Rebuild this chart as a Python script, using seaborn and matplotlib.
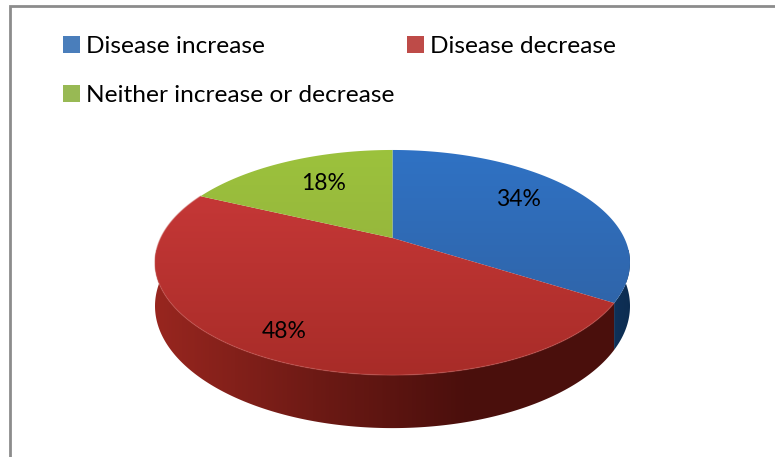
import numpy as np
import matplotlib
matplotlib.use("Agg")
import matplotlib.pyplot as plt
from matplotlib.patches import Patch, Polygon
from matplotlib.colors import LinearSegmentedColormap
import seaborn as sns

sns.set_theme(style="white")
plt.rcParams["font.family"] = ["Lato", "DejaVu Sans"]

categories = ["Disease increase", "Disease decrease", "Neither increase or decrease"]
shares = [34, 48, 18]
swatch_colors = ["#4A7EBB", "#BE4B48", "#98B954"]
face_top = ["#2F72C4", "#CC3A3A", "#9CC23C"]
face_bottom = ["#2F5F9E", "#A82C28", "#8FA83C"]
side_stops = [
    ["#123A66", "#0E2F55", "#0B2A4C"],
    ["#98261F", "#6E1A15", "#4A0F0C"],
    ["#6B8A20", "#5F7C1C", "#55701A"],
]

W, H = 775, 457
fig = plt.figure(figsize=(W / 100, H / 100), dpi=100, facecolor="white")
ax = fig.add_axes([0, 0, 1, 1])
ax.set_axis_off()

# Tilted disc: a circle seen in perspective, with its hub above the ellipse middle
cx, hub_y = 392.5, 238.0
half_w, half_h, tilt, depth = 231.8, 107.2, 0.2178, 41.5


def rim(theta):
    u, v = np.sin(theta), np.cos(theta)
    w = 1 + tilt * v
    return cx + half_w * u / w, hub_y - half_h * v / w, depth / w


edges = np.concatenate([[0], np.cumsum(shares)]) / sum(shares) * 2 * np.pi

# Side wall of the disc, one horizontal gradient per slice, clipped to its visible band
for i in range(len(shares)):
    grid = np.linspace(edges[i], edges[i + 1], 240)
    grid = grid[np.cos(grid) < 0.25]
    if grid.size < 2:
        continue
    xs, ys, ds = rim(grid)
    band = np.column_stack([np.r_[xs, xs[::-1]], np.r_[ys, (ys + ds)[::-1]]])
    clip = Polygon(band, closed=True, transform=ax.transData, fc="none", ec="none")
    ax.add_patch(clip)
    cmap = LinearSegmentedColormap.from_list(f"side{i}", side_stops[i])
    img = ax.imshow(np.linspace(0, 1, 128)[None, :], cmap=cmap, aspect="auto",
                    extent=(155, 470, 440, 250) if i == 1 else (600, 640, 440, 250),
                    zorder=2, interpolation="bilinear")
    img.set_clip_path(clip)
    if i == 1:
        # Dark remainder of the red wall to the right of the gradient
        rest = ax.imshow([[0.0]], cmap=LinearSegmentedColormap.from_list("rest", [side_stops[1][2]] * 2),
                         aspect="auto", extent=(470, 640, 440, 250), zorder=2)
        rest.set_clip_path(clip)

# Top face of every slice, filled with a vertical gradient clipped to the slice
for i in range(len(shares)):
    grid = np.linspace(edges[i], edges[i + 1], 200)
    xs, ys, _ = rim(grid)
    outline = np.column_stack([np.r_[cx, xs], np.r_[hub_y, ys]])
    cmap = LinearSegmentedColormap.from_list(f"face{i}", [face_top[i], face_bottom[i]])
    clip = Polygon(outline, closed=True, transform=ax.transData, fc="none", ec="none")
    ax.add_patch(clip)
    img = ax.imshow(np.linspace(0, 1, 64)[:, None], cmap=cmap, aspect="auto",
                    extent=(150, 635, 378, 148), zorder=3, interpolation="bilinear")
    img.set_clip_path(clip)
    if i == 1:
        # Faint highlight along the front lip of the red slice
        ax.plot(xs, ys, color="#C4524E", lw=1.0, alpha=0.45, zorder=4)

# Percentage labels on the slices
label_xy = [(518, 200), (284, 331), (324, 184)]
for (lx, ly), share in zip(label_xy, shares):
    ax.text(lx, ly, f"{share}%", ha="center", va="center", fontsize=16.5,
            color="black", zorder=5)

# Chart frame: only the top and left borders fall inside the canvas
ax.plot([9.5, 9.5, W], [H, 6, 6], color="#8C8C8C", lw=2, solid_joinstyle="miter", zorder=6)

ax.set_xlim(0, W)
ax.set_ylim(H, 0)
ax.set_aspect("auto")

# Legend columns fill top-down, so the third entry goes under the first
order = [0, 2, 1]
handles = [Patch(fc=swatch_colors[k], ec="none") for k in order]
labels = [categories[k] for k in order]
fig.legend(handles, labels, ncols=2, loc="upper left",
           bbox_to_anchor=(46 / W, 1 - 19 / H), frameon=False, fontsize=17.6,
           handlelength=0.7, handleheight=0.7, handletextpad=0.25,
           labelspacing=1.13, columnspacing=0.5, borderpad=0.2,
           labelcolor="black")

fig.savefig("out.png", dpi=100)
